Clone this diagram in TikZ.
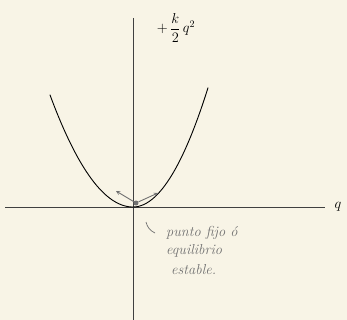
\documentclass[tikz,border=0pt]{standalone}
\usepackage{amsmath}
\usepackage{tikz}
\usepackage{xcolor}
\definecolor{paper}{HTML}{F8F4E6}
\definecolor{pencil}{HTML}{707070}

\begin{document}
\begin{tikzpicture}[x=1pt,y=-1pt,
    axis/.style={draw=black!75,line width=0.6pt},
    curve/.style={draw=black,line width=0.9pt,line cap=round},
    hint/.style={->,>=stealth,draw=pencil,line width=0.9pt},
    note/.style={text=pencil,font=\itshape\Large,align=left,inner sep=0pt},
    formula/.style={font=\Large,inner sep=1pt}
]
    \fill[paper] (0,0) rectangle (347,320);
    \useasboundingbox (0,0) rectangle (347,320);

    % axes
    \coordinate (xl) at (5,207);
    \coordinate (xr) at (325,207);
    \coordinate (yt) at (133,18);
    \coordinate (yb) at (133,320);
    \draw[axis] (xl)--(xr);
    \draw[axis] (yt)--(yb);
    \node[formula] (qlabel) at (338,207) {$q$};

    % potential
    \draw[curve] plot[domain=-83:0,samples=40,smooth]
        ({133+\x},{207-0.01626*\x*\x});
    \draw[curve] plot[domain=0:75,samples=40,smooth]
        ({133+\x},{207-0.0212*\x*\x});
    \node[formula] (energy) at (176,28) {$+\,\dfrac{k}{2}\,q^2$};

    % fixed point
    \node[circle,fill=pencil,inner sep=0pt,minimum size=5pt] (eq) at (136,203) {};
    \coordinate (pushl) at (116,191);
    \coordinate (pushr) at (158,193);
    \draw[hint] (eq)--(pushl);
    \draw[hint] (eq)--(pushr);

    \node[note,anchor=north west] (stable) at (166,226)
        {punto fijo \'o\\[0pt]equilibrio\\[2pt]\ estable.};
    \coordinate (tick) at (146,222);
    \coordinate (tickend) at (155,233);
    \draw[draw=pencil,line width=0.7pt] (tick) to[bend right=25] (tickend);
\end{tikzpicture}
\end{document}
